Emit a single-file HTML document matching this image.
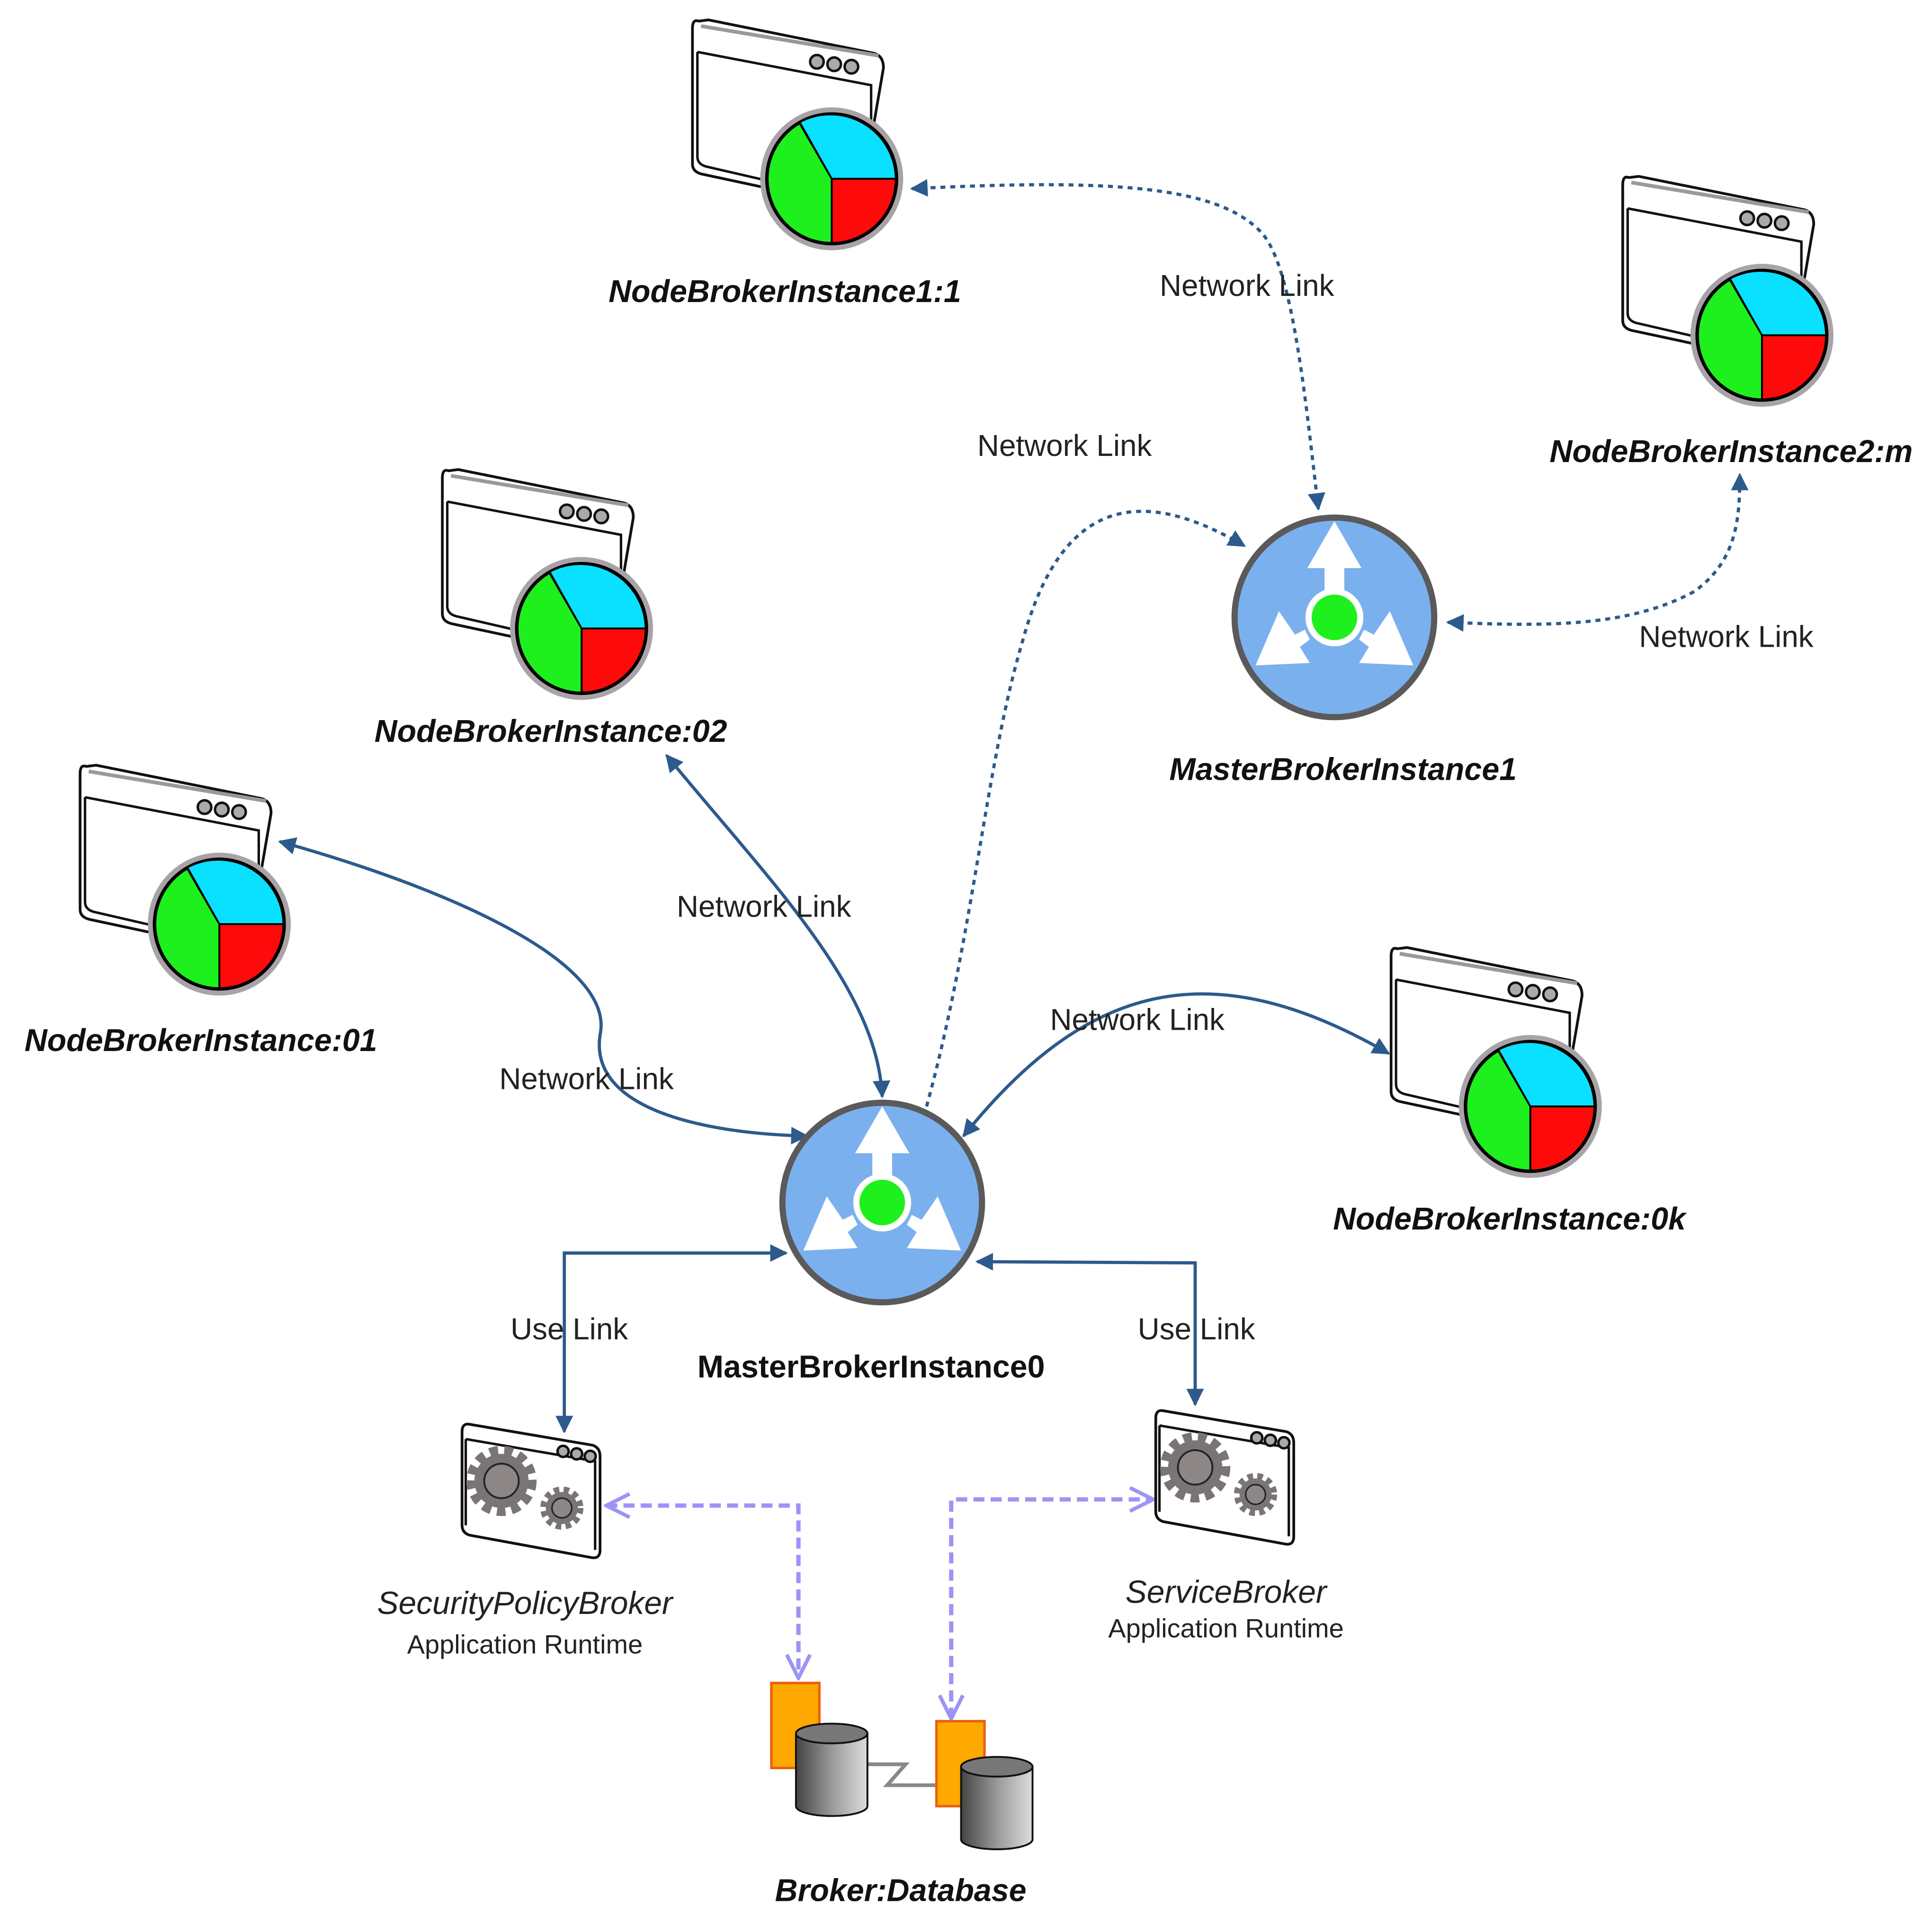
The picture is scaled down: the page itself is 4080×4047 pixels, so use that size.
<!DOCTYPE html>
<html><head><meta charset="utf-8"><style>
html,body{margin:0;padding:0;background:#fff;}
svg{display:block}
.lbl{font-family:"Liberation Sans",sans-serif;font-weight:bold;font-style:italic;font-size:25.5px;fill:#111;text-anchor:middle}
.nl{font-family:"Liberation Sans",sans-serif;font-size:24.5px;fill:#222;text-anchor:middle}
.it{font-family:"Liberation Sans",sans-serif;font-style:italic;font-size:26px;fill:#222;text-anchor:middle}
.sm{font-family:"Liberation Sans",sans-serif;font-size:21.5px;fill:#222;text-anchor:middle}
</style></head><body>
<svg width="4080" height="4047" viewBox="0 0 1568 1555" xmlns="http://www.w3.org/2000/svg">
<defs>
<marker id="ab" viewBox="0 0 10 10" refX="9" refY="5" markerWidth="5.5" markerHeight="5.5" orient="auto-start-reverse" markerUnits="strokeWidth">
<path d="M0,0 L10,5 L0,10 z" fill="#2c5a8c"/></marker>
<marker id="ap" viewBox="0 0 12 12" refX="11" refY="6" markerWidth="6.5" markerHeight="6.5" orient="auto-start-reverse" markerUnits="strokeWidth">
<path d="M1,1 L11,6 L1,11" fill="none" stroke="#9c94f4" stroke-width="1.6"/></marker>
<linearGradient id="cg" x1="0" x2="1"><stop offset="0" stop-color="#444"/><stop offset="0.5" stop-color="#999"/><stop offset="1" stop-color="#ddd"/></linearGradient>
<g id="nb">
<path d="M-108,-128 Q-113,-130 -113,-122 L-113,-12 Q-113,-6 -106,-4 L-50,8 L30,-20 L42,-90 Q42,-100 34,-102 L-100,-129 z" fill="#fff" stroke="#111" stroke-width="2.2"/>
<path d="M-106,-124 L38,-100" fill="none" stroke="#999" stroke-width="3"/>
<path d="M-109,-103 L32,-76 L32,-40 M-109,-103 L-109,-18 Q-109,-12 -102,-10 L-50,2" fill="none" stroke="#111" stroke-width="2"/>
<circle cx="-12" cy="-95" r="5.5" fill="#aaa" stroke="#111" stroke-width="2"/>
<circle cx="2" cy="-93" r="5.5" fill="#aaa" stroke="#111" stroke-width="2"/>
<circle cx="16" cy="-91" r="5.5" fill="#aaa" stroke="#111" stroke-width="2"/>
<circle cx="0" cy="0" r="58" fill="#a9a3a8"/>
<circle cx="0" cy="0" r="54" fill="#000"/>
<path d="M0,0 L-26,-46 A53,53 0 0 1 52,0 z" fill="#0ae0ff" stroke="#000" stroke-width="1.5"/>
<path d="M0,0 L52,0 A52,52 0 0 1 0,52 z" fill="#ff0a0a" stroke="#000" stroke-width="1.5"/>
<path d="M0,0 L0,52 A52,52 0 0 1 -26,-45 z" fill="#1ef01e" stroke="#000" stroke-width="1.5"/>
</g>
<g id="mb">
<circle r="81" fill="#7bb0ee" stroke="#5a5a5a" stroke-width="5"/>
<path d="M0,-78 L22,-40 L8,-40 L8,-22 L-8,-22 L-8,-40 L-22,-40 z" fill="#fff"/>
<path d="M-64,39 L-20,37 L-28,24 L-20,18 L-24,10 L-32,14 L-45,-5 z" fill="#fff"/>
<path d="M64,39 L20,37 L28,24 L20,18 L24,10 L32,14 L45,-5 z" fill="#fff"/>
<circle r="21" fill="#1ef01e" stroke="#fff" stroke-width="5"/>
</g>
<g id="gear">
<path d="M-50,-52 L50,-35 Q56,-33 56,-26 L56,50 Q56,58 48,56 L-50,38 Q-56,36 -56,30 L-56,-46 Q-56,-53 -50,-52 z" fill="#fff" stroke="#111" stroke-width="2.2"/>
<path d="M-53,-40 L52,-22 L52,50 M-53,-40 L-53,30" fill="none" stroke="#111" stroke-width="2"/>
<circle cx="26" cy="-30" r="4.5" fill="#aaa" stroke="#111" stroke-width="2"/>
<circle cx="37" cy="-28" r="4.5" fill="#aaa" stroke="#111" stroke-width="2"/>
<circle cx="48" cy="-26" r="4.5" fill="#aaa" stroke="#111" stroke-width="2"/>
<circle cx="-24" cy="-6" r="22" fill="#7a7474"/>
<circle cx="-24" cy="-6" r="25" fill="none" stroke="#7a7474" stroke-width="7" stroke-dasharray="7 5"/>
<circle cx="-24" cy="-6" r="14" fill="#8c8686" stroke="#222" stroke-width="1.5"/>
<circle cx="25" cy="16" r="13" fill="#7a7474"/>
<circle cx="25" cy="16" r="15" fill="none" stroke="#7a7474" stroke-width="5" stroke-dasharray="4.5 3.5"/>
<circle cx="25" cy="16" r="8" fill="#8c8686" stroke="#222" stroke-width="1.2"/>
</g>
</defs>

<g fill="none" stroke="#2c5a8c" stroke-width="2.6">
<path d="M1070,413 C1060,330 1050,220 1025,190 C990,150 900,145 740,153" stroke-dasharray="4 4" marker-start="url(#ab)" marker-end="url(#ab)"/>
<path d="M1175,505 C1250,508 1320,510 1375,480 C1410,455 1412,420 1412,385" stroke-dasharray="4 4" marker-start="url(#ab)" marker-end="url(#ab)"/>
<path d="M752,898 C790,760 800,620 830,520 C860,410 920,390 1010,443" stroke-dasharray="4 4" marker-end="url(#ab)"/>
<path d="M227,683 C360,720 500,780 487,840 C478,900 570,920 655,922" marker-start="url(#ab)" marker-end="url(#ab)"/>
<path d="M541,613 C620,710 712,800 716,890" marker-start="url(#ab)" marker-end="url(#ab)"/>
<path d="M782,922 C880,800 980,770 1127,855" marker-start="url(#ab)" marker-end="url(#ab)"/>
<path d="M638,1017 L458,1017 L458,1162" marker-start="url(#ab)" marker-end="url(#ab)"/>
<path d="M793,1024 L970,1025 L970,1140" marker-start="url(#ab)" marker-end="url(#ab)"/>
</g>
<g fill="none" stroke="#9c94f4" stroke-width="3.5" stroke-dasharray="9 5">
<path d="M492,1222 L648,1222 L648,1362" marker-start="url(#ap)" marker-end="url(#ap)"/>
<path d="M772,1395 L772,1217 L936,1217" marker-start="url(#ap)" marker-end="url(#ap)"/>
</g>

<use href="#nb" x="675" y="145"/>
<use href="#nb" x="1430" y="272"/>
<use href="#nb" x="472" y="510"/>
<use href="#nb" x="178" y="750"/>
<use href="#nb" x="1242" y="898"/>
<use href="#mb" x="1083" y="501"/>
<use href="#mb" x="716" y="976"/>
<use href="#gear" x="431" y="1208"/>
<use href="#gear" x="994" y="1197"/>

<path d="M703,1432 L735,1432 L720,1449 L760,1449" fill="none" stroke="#888" stroke-width="3"/>
<rect x="626" y="1366" width="39" height="69" fill="#ffa800" stroke="#e86010" stroke-width="2"/>
<path d="M646,1407 L646,1466 A29,8 0 0 0 704,1466 L704,1407 z" fill="url(#cg)" stroke="#111" stroke-width="1.5"/>
<ellipse cx="675" cy="1407" rx="29" ry="8" fill="#777" stroke="#111" stroke-width="1.5"/>
<rect x="760" y="1397" width="39" height="69" fill="#ffa800" stroke="#e86010" stroke-width="2"/>
<path d="M780,1434 L780,1493 A29,8 0 0 0 838,1493 L838,1434 z" fill="url(#cg)" stroke="#111" stroke-width="1.5"/>
<ellipse cx="809" cy="1434" rx="29" ry="8" fill="#777" stroke="#111" stroke-width="1.5"/>

<text class="lbl" x="637" y="245">NodeBrokerInstance1:1</text>
<text class="lbl" x="1405" y="375">NodeBrokerInstance2:m</text>
<text class="lbl" x="447" y="602">NodeBrokerInstance:02</text>
<text class="lbl" x="163" y="853">NodeBrokerInstance:01</text>
<text class="lbl" x="1225" y="998">NodeBrokerInstance:0k</text>
<text class="lbl" x="1090" y="633">MasterBrokerInstance1</text>
<text class="lbl" x="707" y="1118" style="font-style:normal">MasterBrokerInstance0</text>
<text class="lbl" x="731" y="1543">Broker:Database</text>
<text class="nl" x="1012" y="240">Network Link</text>
<text class="nl" x="864" y="370">Network Link</text>
<text class="nl" x="1401" y="525">Network Link</text>
<text class="nl" x="620" y="744">Network Link</text>
<text class="nl" x="923" y="836">Network Link</text>
<text class="nl" x="476" y="884">Network Link</text>
<text class="nl" x="462" y="1087">Use Link</text>
<text class="nl" x="971" y="1087">Use Link</text>
<text class="it" x="426" y="1310">SecurityPolicyBroker</text>
<text class="sm" x="426" y="1342">Application Runtime</text>
<text class="it" x="995" y="1301">ServiceBroker</text>
<text class="sm" x="995" y="1329">Application Runtime</text>
</svg>
</body></html>
